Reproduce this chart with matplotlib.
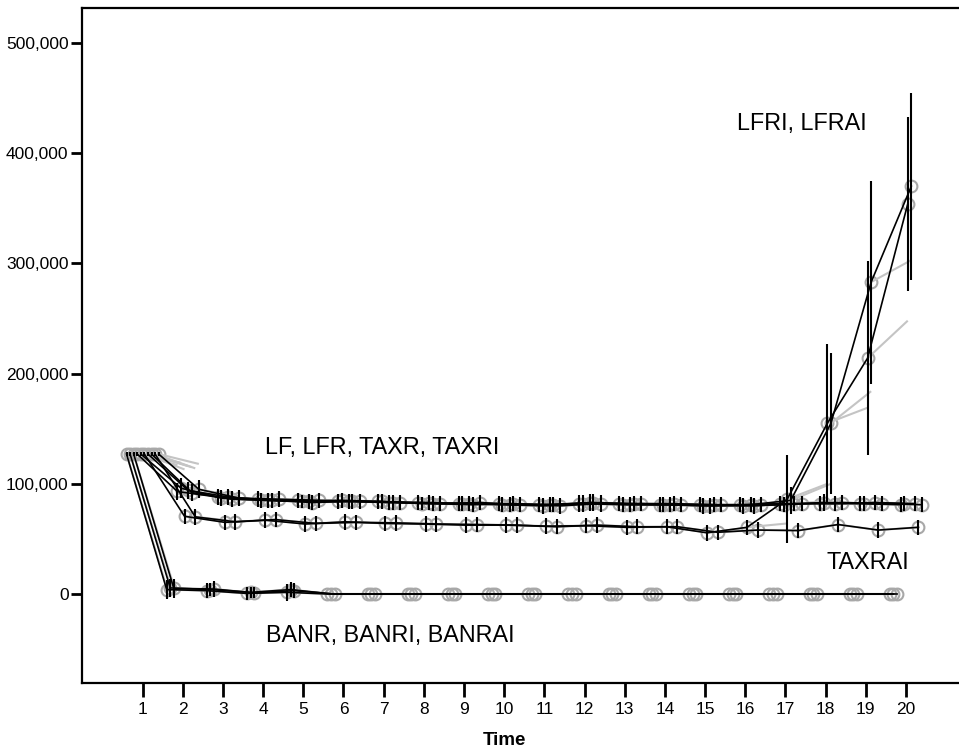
import matplotlib
matplotlib.use("Agg")
import matplotlib.pyplot as plt
from matplotlib import font_manager
import numpy as np

# ---------------- data ----------------
time_labels = [str(t) for t in range(1, 21)]
times = list(range(1, 21))

series_names = ["BANR", "BANRAI", "BANRI", "LF", "LFR", "LFRAI", "LFRI", "TAXR", "TAXRAI", "TAXRI"]

BANR = [127000, 4000, 3000, 500, 1500, 0, 0, 0, 0, 0, 0, 0, 0, 0, 0, 0, 0, 0, 0, 0]
BANRAI = [127000, 5500, 4000, 1500, 4000, 0, 0, 0, 0, 0, 0, 0, 0, 0, 0, 0, 0, 0, 0, 0]
BANRI = [127000, 5000, 4500, 1000, 3000, 0, 0, 0, 0, 0, 0, 0, 0, 0, 0, 0, 0, 0, 0, 0]
LF = [127000, 93000, 88000, 86000, 85000, 84000, 84000, 83000, 82000, 82000,
      81000, 82000, 82000, 81000, 81000, 81000, 82000, 82000, 82000, 81000]
LFR = [127000, 96000, 87000, 85000, 84000, 85000, 84000, 82000, 82000, 81000,
       80000, 82000, 81000, 81000, 80000, 80000, 81000, 83000, 82000, 82000]
LFRAI = [127000, 70500, 65000, 67000, 63500, 65500, 64000, 63500, 62500, 62500,
         61500, 62000, 60500, 61000, 55500, 60500, 86000, 155000, 214000, 354000]
LFRI = [127000, 94000, 88000, 85000, 84000, 84000, 83000, 83000, 82000, 81000,
        81000, 83000, 81000, 81000, 80000, 81000, 85000, 155000, 283000, 370000]
TAXR = [127000, 92000, 86000, 85000, 83000, 84000, 83000, 82000, 81000, 82000,
        81000, 83000, 82000, 82000, 81000, 80000, 82000, 82000, 83000, 82000]
TAXRAI = [127000, 70000, 65500, 67500, 64000, 65000, 64500, 63500, 63000, 62500,
          61000, 62500, 61000, 61000, 56000, 58000, 57500, 63000, 58000, 60500]
TAXRI = [127000, 95000, 87000, 86000, 85000, 84000, 83000, 82000, 83000, 81000,
         80000, 82000, 82000, 81000, 81000, 81000, 82000, 83000, 82000, 81000]

# error bar half-widths
BANR_err = [2000, 9000, 7000, 6000, 8000, 0, 0, 0, 0, 0, 0, 0, 0, 0, 0, 0, 0, 0, 0, 0]
BANRAI_err = [2000, 8000, 6000, 5000, 7000, 0, 0, 0, 0, 0, 0, 0, 0, 0, 0, 0, 0, 0, 0, 0]
BANRI_err = [2000, 9000, 7000, 5000, 7000, 0, 0, 0, 0, 0, 0, 0, 0, 0, 0, 0, 0, 0, 0, 0]
LF_err = [2000, 8000, 7000, 7000, 7000, 7000, 7000, 7000, 7000, 7000,
          7000, 8000, 7000, 7000, 7000, 7000, 7000, 7000, 7000, 7000]
LFR_err = [2000, 9000, 7000, 7000, 6000, 7000, 7000, 6000, 7000, 7000,
           7000, 8000, 7000, 7000, 7000, 7000, 7000, 8000, 7000, 7000]
LFRAI_err = [2000, 7000, 7000, 7000, 7000, 7000, 7000, 7000, 7000, 7000,
             7000, 7000, 7000, 7000, 7000, 7000, 40000, 72000, 88000, 79000]
LFRI_err = [2000, 8000, 7000, 7000, 7000, 7000, 7000, 7000, 7000, 7000,
            7000, 8000, 7000, 7000, 7000, 7000, 12000, 64000, 92000, 85000]
TAXR_err = [2000, 8000, 7000, 7000, 7000, 7000, 7000, 7000, 7000, 7000,
            7000, 8000, 7000, 7000, 7000, 7000, 7000, 7000, 7000, 7000]
TAXRAI_err = [2000, 7000, 7000, 7000, 7000, 7000, 7000, 7000, 7000, 7000,
              7000, 7000, 7000, 7000, 7000, 7000, 7000, 7000, 7000, 7000]
TAXRI_err = [2000, 8000, 7000, 7000, 7000, 7000, 7000, 7000, 7000, 7000,
             7000, 8000, 7000, 7000, 7000, 7000, 7000, 7000, 7000, 7000]

# grey step segments: end value at time t+1 of the grey segment leaving time t
BANR_grey = [6000, 3000, 500, 1500, 0, 0, 0, 0, 0, 0, 0, 0, 0, 0, 0, 0, 0, 0, 0]
BANRAI_grey = [8000, 4000, 1500, 4000, 0, 0, 0, 0, 0, 0, 0, 0, 0, 0, 0, 0, 0, 0, 0]
BANRI_grey = [7000, 4500, 1000, 3000, 0, 0, 0, 0, 0, 0, 0, 0, 0, 0, 0, 0, 0, 0, 0]
LF_grey = [117000, 89000, 86000, 85000, 84000, 84000, 83000, 82000, 82000, 81000,
           82000, 82000, 81000, 81000, 81000, 82000, 83000, 82000, 81000]
LFR_grey = [119000, 88000, 85000, 84000, 85000, 84000, 82000, 82000, 81000, 80000,
            82000, 81000, 81000, 80000, 80000, 81000, 84000, 82000, 82000]
LFRAI_grey = [113000, 66000, 67000, 64000, 65500, 64000, 63500, 62500, 62500, 61500,
              62000, 60500, 61000, 56000, 60000, 64000, 100000, 169000, 248000]
LFRI_grey = [116000, 88000, 85000, 84000, 84000, 83000, 83000, 82000, 81000, 81000,
             83000, 81000, 81000, 80000, 81000, 84000, 100000, 184000, 303000]
TAXR_grey = [115000, 87000, 85000, 83000, 84000, 83000, 82000, 81000, 82000, 81000,
             83000, 82000, 82000, 81000, 80000, 82000, 83000, 83000, 82000]
TAXRAI_grey = [114000, 66000, 67500, 64000, 65000, 64500, 63500, 63000, 62500, 61000,
               62500, 61000, 61000, 56000, 58000, 58000, 63000, 58000, 60500]
TAXRI_grey = [118000, 88000, 86000, 85000, 84000, 83000, 82000, 83000, 81000, 80000,
              82000, 82000, 81000, 81000, 81000, 82000, 83000, 82000, 81000]

means = [BANR, BANRAI, BANRI, LF, LFR, LFRAI, LFRI, TAXR, TAXRAI, TAXRI]
errs = [BANR_err, BANRAI_err, BANRI_err, LF_err, LFR_err, LFRAI_err, LFRI_err,
        TAXR_err, TAXRAI_err, TAXRI_err]
greys = [BANR_grey, BANRAI_grey, BANRI_grey, LF_grey, LFR_grey, LFRAI_grey, LFRI_grey,
         TAXR_grey, TAXRAI_grey, TAXRI_grey]

group_labels = ["LF, LFR, TAXR, TAXRI", "LFRI, LFRAI", "TAXRAI", "BANR, BANRI, BANRAI"]
group_label_pos = [(4.04, 133000), (15.79, 427000), (18.01, 29000), (4.07, -38000)]

# ---------------- style ----------------
names = {f.name for f in font_manager.fontManager.ttflist}
base_font = "Liberation Sans" if "Liberation Sans" in names else "DejaVu Sans"
narrow_font = "Liberation Sans Narrow" if "Liberation Sans Narrow" in names else base_font
plt.rcParams["font.family"] = [base_font, "DejaVu Sans"]

fig = plt.figure(figsize=(9.59, 7.54), dpi=100)
ax = fig.add_axes([0.0852, 0.0942, 0.9148, 0.8952])

offsets = np.linspace(-0.4, 0.4, len(series_names))
x = np.array(times, dtype=float)

for i, name in enumerate(series_names):
    xs = x + offsets[i]
    m = np.array(means[i], dtype=float)
    e = np.array(errs[i], dtype=float)
    g = np.array(greys[i], dtype=float)
    # grey step segments
    for k in range(len(times) - 1):
        ax.plot([xs[k], xs[k + 1]], [m[k], g[k]], color="#c4c4c4", lw=1.5,
                zorder=3, solid_capstyle="butt")
    # markers
    ax.plot(xs, m, linestyle="none", marker="o", markersize=8.5,
            markerfacecolor="none", markeredgecolor="#a8a8a8", markeredgewidth=1.5,
            zorder=2)
    # black mean line
    ax.plot(xs, m, color="black", lw=1.2, zorder=4)
    # error bars
    ax.vlines(xs, m - e, m + e, color="black", lw=1.5, zorder=5)

for txt, (tx, ty) in zip(group_labels, group_label_pos):
    ax.text(tx, ty, txt, fontsize=16.8, ha="left", va="center", color="black",
            family=[base_font, "DejaVu Sans"])

ax.set_xlim(-0.515, 21.32)
ax.set_ylim(-80760, 531760)

ax.set_xticks(times)
ax.set_xticklabels(time_labels, fontsize=12.5, family=[narrow_font, "DejaVu Sans"])
yt = [0, 100000, 200000, 300000, 400000, 500000]
ax.set_yticks(yt)
ax.set_yticklabels([f"{v:,}" for v in yt], fontsize=12.5)

ax.tick_params(axis="x", length=10, width=2, pad=4, colors="black")
ax.tick_params(axis="y", length=8, width=2, pad=1.5, colors="black")

for s in ["left", "bottom", "top"]:
    ax.spines[s].set_linewidth(1.6)
    ax.spines[s].set_color("black")
ax.spines["right"].set_visible(False)

ax.set_xlabel("Time", fontsize=13.5, fontweight="bold",
              family=[narrow_font, "DejaVu Sans"])
ax.xaxis.set_label_coords(0.482, -0.085)
ax.xaxis.label.set_va("center")

fig.savefig("out.png", dpi=100)
